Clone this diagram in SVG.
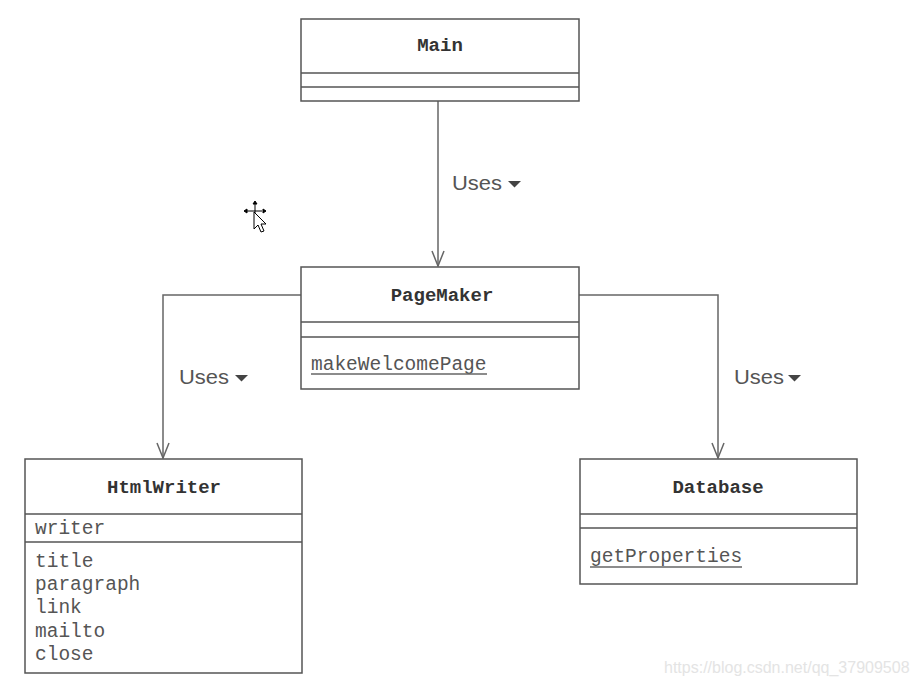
<svg xmlns="http://www.w3.org/2000/svg" width="916" height="688" viewBox="0 0 916 688">
<style>
.box{fill:#fff;stroke:#555;stroke-width:1.5}
.div{stroke:#555;stroke-width:1.5}
.title{font-family:"Liberation Mono",monospace;font-weight:bold;font-size:19px;fill:#333;text-anchor:middle}
.m{font-family:"Liberation Mono",monospace;font-size:19.5px;fill:#555}
.ul{stroke:#666;stroke-width:1.3}
.conn{fill:none;stroke:#666;stroke-width:1.5;marker-end:url(#open)}
.lbl{font-family:"Liberation Sans",Arial,sans-serif;font-size:20px;fill:#555}
.tri{fill:#444}
.wm{font-family:"Liberation Sans",Arial,sans-serif;font-size:16px;fill:#e4e4e4}
</style>
<defs>
<marker id="open" viewBox="-1 -1 18 14" refX="15" refY="6" markerWidth="18" markerHeight="14" markerUnits="userSpaceOnUse" orient="auto">
<path d="M0,0 L15,6 L0,12" fill="none" stroke="#666" stroke-width="1.5"/>
</marker>
</defs>
<rect width="916" height="688" fill="#fff"/>
<g id="connectors">
<path class="conn" d="M438,101 V266"/>
<path class="conn" d="M301,295 H163 V458"/>
<path class="conn" d="M579,295 H718 V458"/>
<g id="uses1"><text class="lbl" x="452" y="190" textLength="50" lengthAdjust="spacingAndGlyphs">Uses</text><path class="tri" d="M508,181 h13 l-6.5,6.5 z"/></g>
<g id="uses2"><text class="lbl" x="179" y="384" textLength="50" lengthAdjust="spacingAndGlyphs">Uses</text><path class="tri" d="M235,375 h13 l-6.5,6.5 z"/></g>
<g id="uses3"><text class="lbl" x="734" y="384" textLength="50" lengthAdjust="spacingAndGlyphs">Uses</text><path class="tri" d="M788,375 h13 l-6.5,6.5 z"/></g>
</g>
<g id="main">
<rect class="box" x="301" y="19" width="278" height="82"/>
<line class="div" x1="301" y1="73" x2="579" y2="73"/>
<line class="div" x1="301" y1="87" x2="579" y2="87"/>
<text class="title" x="440" y="51">Main</text>
</g>
<g id="pagemaker">
<rect class="box" x="301" y="267" width="278" height="122"/>
<line class="div" x1="301" y1="322" x2="579" y2="322"/>
<line class="div" x1="301" y1="337" x2="579" y2="337"/>
<text class="title" x="442" y="301">PageMaker</text>
<text class="m" x="311" y="370">makeWelcomePage</text>
<line class="ul" x1="311" y1="374" x2="487" y2="374"/>
</g>
<g id="htmlwriter">
<rect class="box" x="25" y="459" width="277" height="214"/>
<line class="div" x1="25" y1="514" x2="302" y2="514"/>
<line class="div" x1="25" y1="542" x2="302" y2="542"/>
<text class="title" x="164" y="493">HtmlWriter</text>
<text class="m" x="35" y="534">writer</text>
<text class="m" x="35" y="567">title</text>
<text class="m" x="35" y="590">paragraph</text>
<text class="m" x="35" y="613">link</text>
<text class="m" x="35" y="637">mailto</text>
<text class="m" x="35" y="660">close</text>
</g>
<g id="database">
<rect class="box" x="580" y="459" width="277" height="125"/>
<line class="div" x1="580" y1="514" x2="857" y2="514"/>
<line class="div" x1="580" y1="528" x2="857" y2="528"/>
<text class="title" x="718" y="493">Database</text>
<text class="m" x="590" y="562">getProperties</text>
<line class="ul" x1="590" y1="567" x2="742" y2="567"/>
</g>
<g id="cursor">
<path d="M255,201 l-2,3 h4 z M255,204 v12 M244,211 l3,-2 v4 z M247,211 h15 M266,211 l-3,-2 v4 z" fill="#000" stroke="#000" stroke-width="1"/>
<path d="M254,212 v17 l4,-4 l3,7 l3,-1 l-3,-7 l5,0 z" fill="#fff" stroke="#000" stroke-width="1"/>
</g>
<text class="wm" x="664" y="673">https://blog.csdn.net/qq_37909508</text>
</svg>
